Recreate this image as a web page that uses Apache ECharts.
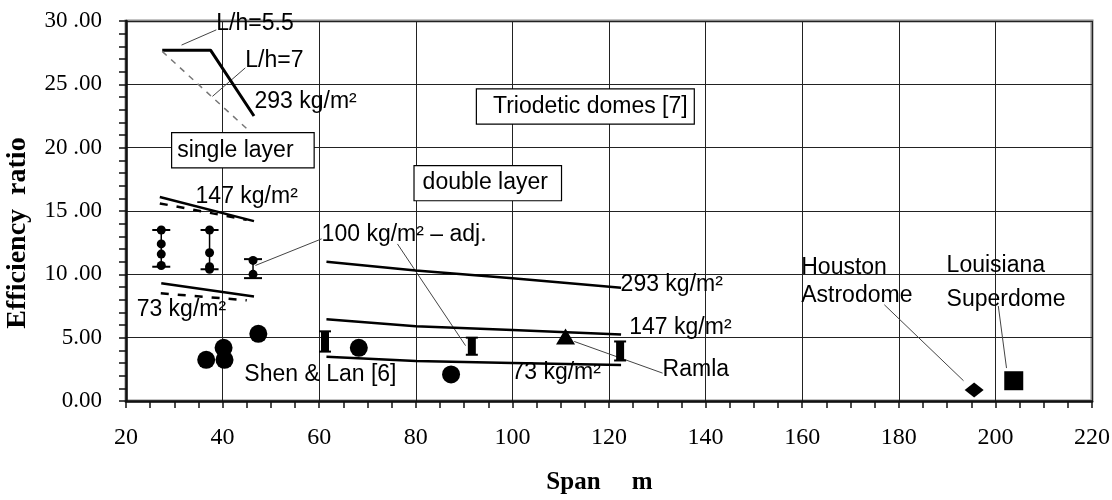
<!DOCTYPE html>
<html>
<head>
<meta charset="utf-8">
<script src="https://cdn.jsdelivr.net/npm/echarts@6/dist/echarts.min.js"></script>
<style>html,body{margin:0;padding:0;background:#fff}#c{width:1112px;height:500px}</style>
</head>
<body>
<div id="c"></div>
<script>
// ---- tick labels ----
const xTickLabels = ['20','40','60','80','100','120','140','160','180','200','220'];
const yTickLabels = ['0.00','5.00','10 .00','15 .00','20 .00','25 .00','30 .00'];

// ---- single layer: L/h lines (293 kg/m2) ----
const lh55X = [27.5, 37.5, 46.5];
const lh55Y = [27.7, 27.7, 22.5];
const lh7X = [27.5, 45.0];
const lh7Y = [27.6, 21.5];

// ---- single layer 147 / 73 kg/m2 ----
const s147X = [27.0, 46.5];
const s147Y = [16.1, 14.2];
const s147dX = [27.0, 45.0];
const s147dY = [15.6, 14.3];
const s73X = [27.3, 46.5];
const s73Y = [9.3, 8.25];
const s73dX = [27.2, 45.0];
const s73dY = [8.5, 7.95];

// ---- single layer error bars ----
const errX = [27.3, 37.3, 46.3];
const errLow = [10.6, 10.4, 9.7];
const errHigh = [13.5, 13.5, 11.2];
const errDotX = [27.3, 27.3, 27.3, 27.3, 37.3, 37.3, 37.3, 37.3, 46.3, 46.3];
const errDotY = [13.5, 12.4, 11.6, 10.7, 13.5, 11.7, 10.6, 10.4, 11.1, 10.0];

// ---- double layer lines ----
const dlX = [61.5, 80, 100, 122.5];
const dl293 = [11.0, 10.3, 9.7, 8.95];
const dl147 = [6.45, 5.9, 5.6, 5.25];
const dl73 = [3.5, 3.15, 3.0, 2.85];

// ---- double layer "100 kg/m2 - adj." bars ----
const barX = [61.2, 91.6, 122.3];
const barLow = [3.9, 3.65, 3.2];
const barHigh = [5.5, 5.0, 4.7];

// ---- Shen & Lan [6] ----
const shenX = [36.6, 40.4, 40.2, 47.4, 68.2, 87.3];
const shenY = [3.25, 3.25, 4.2, 5.3, 4.2, 2.1];

// ---- individual domes ----
const ramlaX = [111.0], ramlaY = [5.1];
const houstonX = [195.6], houstonY = [0.87];
const louisianaX = [203.8], louisianaY = [1.6];

// ---- annotations (data coordinates) ----
const annTexts = ['L/h=5.5','L/h=7','293 kg/m²','147 kg/m²','73 kg/m²','100 kg/m² – adj.','Shen & Lan [6]','293 kg/m²','147 kg/m²','73 kg/m²','Ramla','Houston','Astrodome','Louisiana','Superdome'];
const annX = [38.7, 44.7, 46.6, 34.4, 22.2, 60.5, 44.5, 122.4, 124.2, 99.8, 131.1, 159.8, 159.8, 189.9, 189.9];
const annY = [29.8, 26.9, 23.6, 16.1, 7.2, 13.1, 2.05, 9.2, 5.8, 2.2, 2.45, 10.55, 8.33, 10.7, 8.0];
const boxTexts = ['single layer','Triodetic domes [7]','double layer'];
const boxX = [44.2, 115.1, 94.9];
const boxY = [19.8, 23.25, 17.2];

// ---- leader lines ----
const leaderFromX = [38.7, 44.7, 60.5, 76.2, 112.8, 177.0, 200.6];
const leaderFromY = [29.3, 26.3, 12.8, 12.4, 4.7, 7.6, 7.5];
const leaderToX = [31.5, 37.9, 46.8, 90.3, 131.1, 193.4, 202.3];
const leaderToY = [28.1, 24.05, 10.7, 4.37, 2.2, 1.6, 2.6];

const zip = (a, b) => a.map((v, i) => [v, b[i]]);
const sans = 'Liberation Sans, Arial, sans-serif';
const serif = 'Liberation Serif, Times New Roman, serif';
const boxPad = [[6, 20, 5, 5], [6, 6, 5, 16], [6, 13, 5, 8]];

const chart = echarts.init(document.getElementById('c'), null, {renderer: 'canvas'});

function lineSeries(xs, ys, style) {
  return {
    type: 'line', data: zip(xs, ys), symbol: 'none', silent: true, z: 3,
    lineStyle: Object.assign({color: '#000', width: 2.5}, style || {}),
    animation: false
  };
}
function dots(xs, ys, symbol, size, z) {
  return {type: 'scatter', silent: true, z: z || 5, data: zip(xs, ys), symbol: symbol, symbolSize: size,
    itemStyle: {color: '#000', opacity: 1}};
}

const option = {
  animation: false,
  backgroundColor: '#fff',
  grid: {left: 126, right: 20, top: 21, bottom: 99, containLabel: false, outerBoundsMode: 'none',
    show: true, borderColor: '#8a8a8a', borderWidth: 3, backgroundColor: '#fff'},
  xAxis: {
    type: 'value', min: 20, max: 220, interval: 20,
    name: 'Span     m', nameLocation: 'middle', nameGap: 69,
    nameTextStyle: {fontFamily: serif, fontWeight: 'bold', fontSize: 25, color: '#000', padding: [0, 19, 0, 0]},
    axisLine: {show: true, lineStyle: {color: '#111', width: 2.5}},
    axisTick: {show: true, length: 7, lineStyle: {color: '#111', width: 1.5}},
    minorTick: {show: true, splitNumber: 4, length: 7, lineStyle: {color: '#111', width: 1.5}},
    splitLine: {show: true, lineStyle: {color: '#222', width: 1}},
    axisLabel: {margin: 25, fontFamily: serif, fontSize: 24, color: '#000',
      formatter: v => xTickLabels[Math.round((v - 20) / 20)]}
  },
  yAxis: {
    type: 'value', min: 0, max: 30, interval: 5,
    name: 'Efficiency  ratio', nameLocation: 'middle', nameGap: 94,
    nameTextStyle: {fontFamily: serif, fontWeight: 'bold', fontSize: 28, color: '#000', padding: [0, 44, 0, 0]},
    axisLine: {show: true, lineStyle: {color: '#111', width: 2.5}},
    axisTick: {show: true, length: 7, lineStyle: {color: '#111', width: 1.5}},
    minorTick: {show: true, splitNumber: 5, length: 7, lineStyle: {color: '#111', width: 1.5}},
    splitLine: {show: true, lineStyle: {color: '#222', width: 1}},
    axisLabel: {margin: 24, fontFamily: serif, fontSize: 23, color: '#000',
      formatter: v => yTickLabels[Math.round(v / 5)]}
  },
  series: [
    lineSeries(lh55X, lh55Y, {width: 3}),
    lineSeries(lh7X, lh7Y, {color: '#777', width: 1.5, type: [6, 6]}),
    lineSeries(s147X, s147Y),
    lineSeries(s147dX, s147dY, {width: 2.5, type: [8, 9]}),
    lineSeries(s73X, s73Y),
    lineSeries(s73dX, s73dY, {width: 2.5, type: [8, 9]}),
    lineSeries(dlX, dl293),
    lineSeries(dlX, dl147),
    lineSeries(dlX, dl73),
    {
      type: 'custom', silent: true, z: 4,
      data: errX.map((x, i) => [x, errLow[i], errHigh[i]]),
      encode: {x: 0, y: [1, 2]},
      renderItem: (params, api) => {
        const lo = api.coord([api.value(0), api.value(1)]);
        const hi = api.coord([api.value(0), api.value(2)]);
        const w = 9;
        const st = {stroke: '#000', lineWidth: 2};
        return {type: 'group', children: [
          {type: 'line', shape: {x1: lo[0], y1: lo[1], x2: hi[0], y2: hi[1]}, style: {stroke: '#000', lineWidth: 1.5}},
          {type: 'line', shape: {x1: lo[0] - w, y1: lo[1], x2: lo[0] + w, y2: lo[1]}, style: st},
          {type: 'line', shape: {x1: hi[0] - w, y1: hi[1], x2: hi[0] + w, y2: hi[1]}, style: st}
        ]};
      }
    },
    dots(errDotX, errDotY, 'circle', 9),
    {
      type: 'custom', silent: true, z: 4,
      data: barX.map((x, i) => [x, barLow[i], barHigh[i]]),
      encode: {x: 0, y: [1, 2]},
      renderItem: (params, api) => {
        const lo = api.coord([api.value(0), api.value(1)]);
        const hi = api.coord([api.value(0), api.value(2)]);
        return {type: 'group', children: [
          {type: 'rect', shape: {x: lo[0] - 4, y: hi[1], width: 8, height: lo[1] - hi[1]}, style: {fill: '#000'}},
          {type: 'line', shape: {x1: lo[0] - 6, y1: lo[1], x2: lo[0] + 6, y2: lo[1]}, style: {stroke: '#000', lineWidth: 2}},
          {type: 'line', shape: {x1: hi[0] - 6, y1: hi[1], x2: hi[0] + 6, y2: hi[1]}, style: {stroke: '#000', lineWidth: 2}}
        ]};
      }
    },
    dots(shenX, shenY, 'circle', 18),
    dots(ramlaX, ramlaY, 'triangle', [19, 16]),
    dots(houstonX, houstonY, 'diamond', [19, 15]),
    dots(louisianaX, louisianaY, 'rect', 19),
    {
      type: 'custom', silent: true, z: 3,
      data: leaderFromX.map((x, i) => [x, leaderFromY[i], leaderToX[i], leaderToY[i]]),
      encode: {x: [0, 2], y: [1, 3]},
      renderItem: (params, api) => {
        const a = api.coord([api.value(0), api.value(1)]);
        const b = api.coord([api.value(2), api.value(3)]);
        return {type: 'line', shape: {x1: a[0], y1: a[1], x2: b[0], y2: b[1]}, style: {stroke: '#444', lineWidth: 1}};
      }
    },
    {
      type: 'scatter', silent: true, z: 6, symbolSize: 0, itemStyle: {opacity: 1},
      data: annTexts.map((t, i) => ({value: [annX[i], annY[i]], name: t})),
      label: {show: true, position: 'right', distance: 0, formatter: p => p.name,
        fontFamily: sans, fontSize: 23, color: '#000'}
    },
    {
      type: 'scatter', silent: true, z: 6, symbolSize: 0, itemStyle: {opacity: 1},
      data: boxTexts.map((t, i) => ({value: [boxX[i], boxY[i]], name: t, label: {padding: boxPad[i]}})),
      label: {show: true, position: 'inside', formatter: p => p.name,
        fontFamily: sans, fontSize: 23, color: '#000', backgroundColor: '#fff',
        borderColor: '#000', borderWidth: 1.2}
    }
  ]
};
chart.setOption(option);
</script>
</body>
</html>
